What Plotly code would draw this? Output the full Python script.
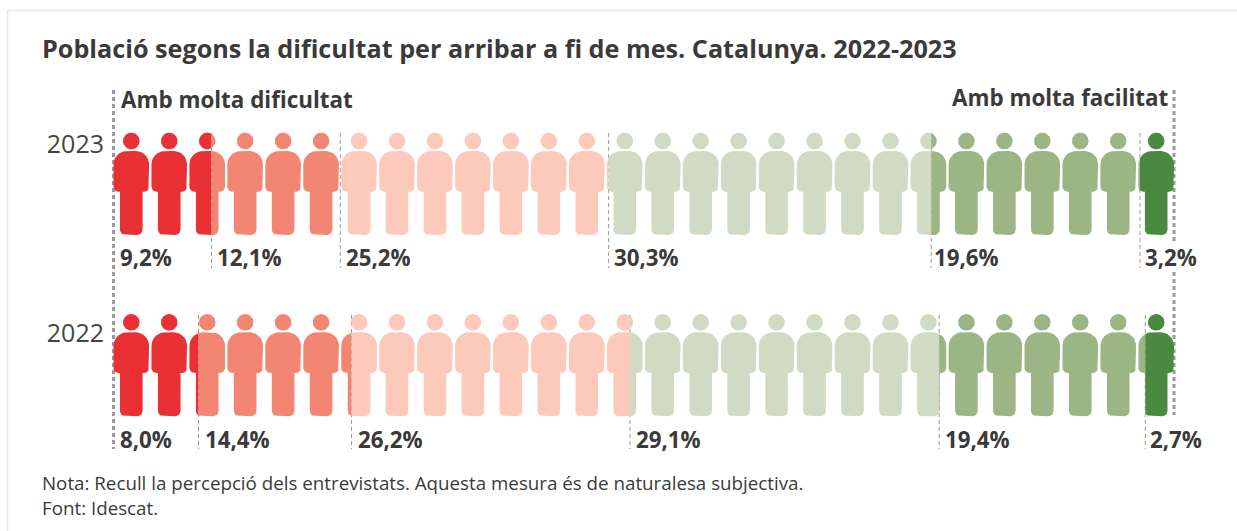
import math
import plotly.graph_objects as go

TITLE = "Població segons la dificultat per arribar a fi de mes. Catalunya. 2022-2023"
LEFT_LABEL = "Amb molta dificultat"
RIGHT_LABEL = "Amb molta facilitat"
NOTE = "Nota: Recull la percepció dels entrevistats. Aquesta mesura és de naturalesa subjectiva."
SOURCE = "Font: Idescat."

YEARS = ["2023", "2022"]
VALUES_2023 = [9.2, 12.1, 25.2, 30.3, 19.6, 3.2]
VALUES_2022 = [8.0, 14.4, 26.2, 29.1, 19.4, 2.7]
LABELS_2023 = ["9,2%", "12,1%", "25,2%", "30,3%", "19,6%", "3,2%"]
LABELS_2022 = ["8,0%", "14,4%", "26,2%", "29,1%", "19,4%", "2,7%"]
COLORS = ["#E93035", "#F28672", "#FCC9BA", "#D1DBC3", "#9BB585", "#4A8A40"]
N_PEOPLE = 28

W, H = 1237, 531
X0_PX, X100_PX = 113.5, 1174.0      # pixel positions of 0 % and 100 %
AREA_L, AREA_R = 107.0, 1181.0      # plot area, a little wider so the guides are not clipped
PX = (X100_PX - X0_PX) / 100.0
TEXT = "#3a3a3a"
GUIDE = "#9a9a9a"
FRAME = "#e8e8e8"


def to_x(px):
    return (px - X0_PX) / PX


def paper_x(px):
    return (px - AREA_L) / (AREA_R - AREA_L)


def paper_y(py):
    return 1 - py / H


def arc(cx, cy, r, a0, a1, n=10):
    return [(cx + r * math.cos(math.radians(a0 + (a1 - a0) * i / n)),
             cy + r * math.sin(math.radians(a0 + (a1 - a0) * i / n))) for i in range(n + 1)]


def body_outline():
    """Pictogram body in pixels, centred on x=0, y=0 at the shoulders."""
    sw, lw, torso, foot = 17.8, 11.3, 40.7, 84.0
    rs, rt, rf = 13.5, 5.0, 5.5
    p = []
    p += arc(-sw + rs, rs, rs, 180, 270)
    p += arc(sw - rs, rs, rs, 270, 360)
    p += arc(sw - rt, torso - rt, rt, 0, 90, 6)
    p += [(lw, torso)]
    p += arc(lw - rf, foot - rf, rf, 0, 90, 6)
    p += arc(-lw + rf, foot - rf, rf, 90, 180, 6)
    p += [(-lw, torso)]
    p += arc(-sw + rt, torso - rt, rt, 90, 180, 6)
    return p


BODY = body_outline()
HEAD = arc(0, -10, 8.3, 0, 360, 32)


def clip_x(poly, xmin, xmax):
    def clip(pts, inside, cross):
        out = []
        for i, a in enumerate(pts):
            b = pts[(i + 1) % len(pts)]
            if inside(a):
                out.append(a)
                if not inside(b):
                    out.append(cross(a, b))
            elif inside(b):
                out.append(cross(a, b))
        return out

    def at(x):
        return lambda a, b: (x, a[1] + (b[1] - a[1]) * (x - a[0]) / (b[0] - a[0]))

    pts = clip(poly, lambda q: q[0] >= xmin, at(xmin))
    if pts:
        pts = clip(pts, lambda q: q[0] <= xmax, at(xmax))
    return pts


ROWS = [
    {"values": VALUES_2023, "labels": LABELS_2023, "top": 151.0, "label_y": 257, "year_y": 144,
     "guide": (133, 268), "nudge": [0, 0, 0, -1, -3, -1]},
    {"values": VALUES_2022, "labels": LABELS_2022, "top": 332.3, "label_y": 439, "year_y": 333,
     "guide": (315, 449), "nudge": [0, 0, 0, 0, 0, -1]},
]

fig = go.Figure()
annotations = []

# outer dotted guides
for x0, segs in ((0, [(90, 449)]), (100, [(90, 241), (272, 415)])):
    xs, ys = [], []
    for a, b in segs:
        xs += [x0, x0, None]
        ys += [a, b, None]
    fig.add_trace(go.Scatter(x=xs, y=ys, mode="lines", hoverinfo="skip",
                             line=dict(color=GUIDE, width=3, dash="4px,3px")))

pitch = (X100_PX - X0_PX - 35.6) / (N_PEOPLE - 1)
centers = [17.8 + pitch * i for i in range(N_PEOPLE)]  # px from the 0 % position

for row in ROWS:
    total = sum(row["values"])
    cum = [0.0]
    for v in row["values"]:
        cum.append(cum[-1] + v / total * 100)

    # inner thin guides
    xs, ys = [], []
    for c in cum[1:-1]:
        xs += [c, c, None]
        ys += [row["guide"][0], row["guide"][1], None]
    fig.add_trace(go.Scatter(x=xs, y=ys, mode="lines", hoverinfo="skip",
                             line=dict(color=GUIDE, width=1, dash="4px,3px")))

    for k, color in enumerate(COLORS):
        xs, ys = [], []
        x_lo, x_hi = cum[k] * PX, cum[k + 1] * PX
        for c in centers:
            for shape in (HEAD, BODY):
                placed = [(c + px, py) for px, py in shape]
                clipped = clip_x(placed, x_lo, x_hi)
                if len(clipped) >= 3:
                    xs += [q[0] / PX for q in clipped] + [clipped[0][0] / PX, None]
                    ys += [q[1] + row["top"] for q in clipped] + [clipped[0][1] + row["top"], None]
        fig.add_trace(go.Scatter(x=xs, y=ys, mode="lines", fill="toself", fillcolor=color,
                                 line=dict(width=0, color=color), hoverinfo="skip"))

    for c, lab, n in zip(cum[:-1], row["labels"], row["nudge"]):
        annotations.append(dict(x=c, y=row["label_y"], text=lab, xref="x", yref="y", xanchor="left",
                                yanchor="middle", xshift=4 + n, showarrow=False,
                                font=dict(family="Open Sans", size=22.3, color=TEXT, weight=700)))


def paper_text(px, py, text, size, anchor="left", weight=400):
    return dict(x=paper_x(px), y=paper_y(py), text=text, xref="paper", yref="paper", xanchor=anchor,
                yanchor="middle", showarrow=False, font=dict(family="Open Sans", size=size, color=TEXT, weight=weight))


annotations += [
    paper_text(119, 100, LEFT_LABEL, 22.4, weight=700),
    paper_text(1170, 97, RIGHT_LABEL, 22.4, anchor="right", weight=700),
    paper_text(40, 483, NOTE, 18.75),
    paper_text(40, 507, SOURCE, 18.75),
]

frame = [
    dict(type="line", xref="paper", yref="paper", x0=paper_x(6.8), x1=paper_x(W), y0=paper_y(10.5), y1=paper_y(10.5),
         line=dict(color=FRAME, width=1.5), layer="below"),
    dict(type="line", xref="paper", yref="paper", x0=paper_x(7.5), x1=paper_x(7.5), y0=paper_y(H), y1=paper_y(10.5),
         line=dict(color=FRAME, width=1.5), layer="below"),
]

fig.update_layout(
    width=W, height=H,
    margin=dict(l=AREA_L, r=W - AREA_R, t=0, b=0, pad=0),
    paper_bgcolor="white", plot_bgcolor="white",
    showlegend=False,
    title=dict(text=TITLE, x=42 / W, xanchor="left", xref="container", y=1 - 49 / H, yanchor="middle",
               yref="container", font=dict(family="Open Sans", size=25.2, color=TEXT, weight=700)),
    xaxis=dict(range=[to_x(AREA_L), to_x(AREA_R)], visible=False, fixedrange=True),
    yaxis=dict(range=[H, 0], fixedrange=True, showgrid=False, zeroline=False, showline=False,
               tickmode="array", tickvals=[r["year_y"] for r in ROWS], ticktext=YEARS, ticks="",
               ticklabelstandoff=2, tickfont=dict(family="Open Sans", size=25, color="#444444")),
    annotations=annotations,
    shapes=frame,
)

fig.write_html("out.html", config=dict(displayModeBar=False),
               post_script="document.body.style.margin='0';document.documentElement.style.overflow='hidden';")
